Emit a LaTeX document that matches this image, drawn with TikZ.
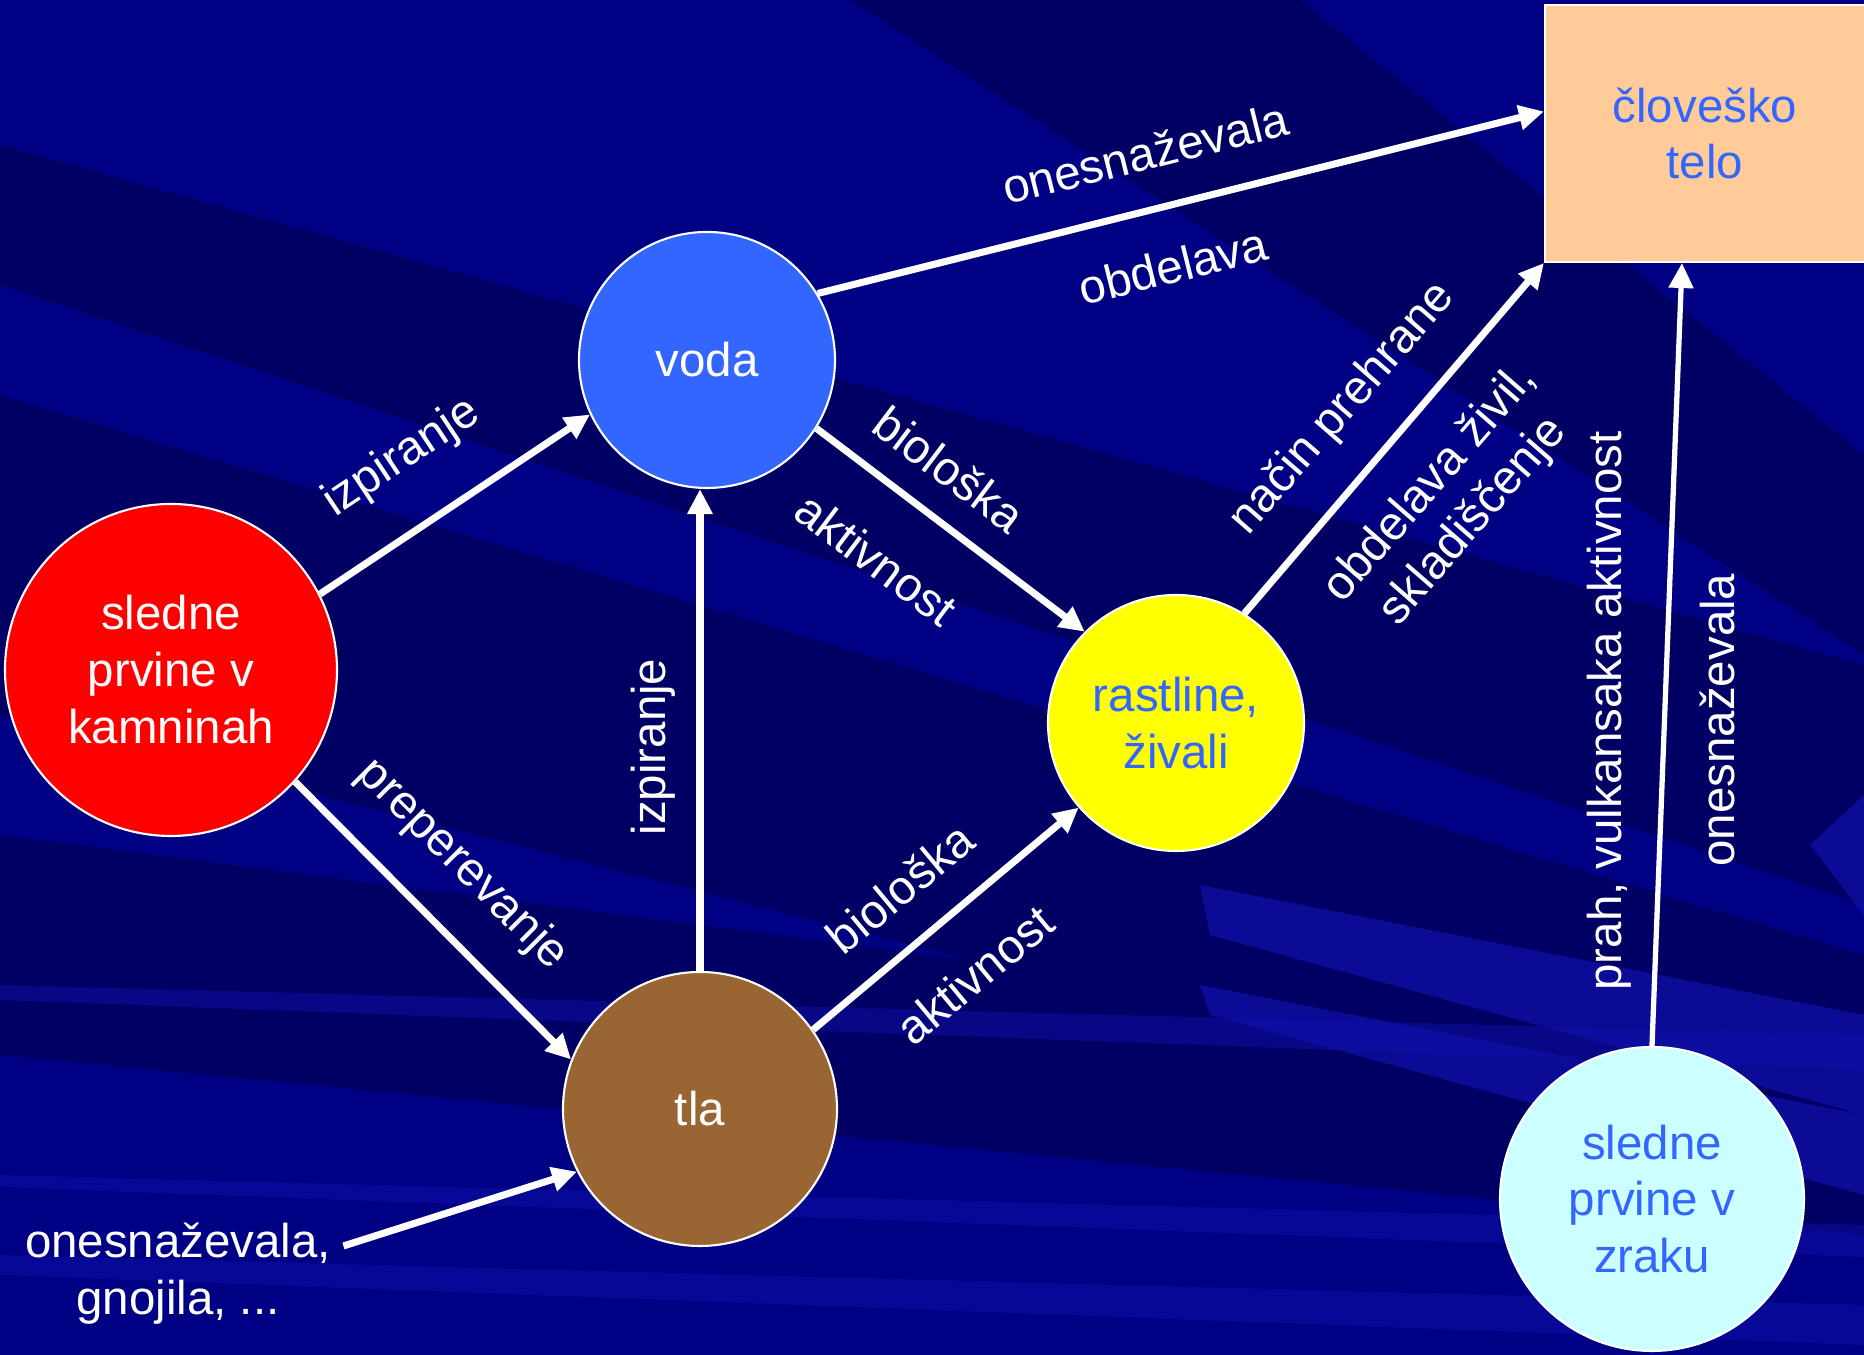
\documentclass[tikz,border=0pt]{standalone}
\usepackage{fontspec}
\setmainfont{Liberation Sans}
\usetikzlibrary{arrows.meta}

\definecolor{navy}{RGB}{0,0,132}
\definecolor{navydark}{RGB}{0,0,100}
\definecolor{navylight}{RGB}{16,16,170}
\definecolor{rockred}{RGB}{255,0,0}
\definecolor{waterblue}{RGB}{51,102,255}
\definecolor{soilbrown}{RGB}{153,102,51}
\definecolor{lifeyellow}{RGB}{255,255,0}
\definecolor{aircyan}{RGB}{204,255,255}
\definecolor{bodypeach}{RGB}{255,204,153}

\tikzset{
  element/.style={circle, draw=white, line width=0.6pt, align=center, inner sep=0pt},
  flow/.style={draw=white, line width=2pt, -{Triangle[length=0.25cm,width=0.24cm]}},
  thinflow/.style={flow, line width=1.5pt},
  flowlabel/.style={text=white, align=center, inner sep=1pt},
}

\begin{document}
\begin{tikzpicture}[font=\fontsize{13.5}{16.2}\selectfont]
\useasboundingbox (0,0) rectangle (18.64,13.55);
\clip (0,0) rectangle (18.64,13.55);
% background
\fill[navy] (0,0) rectangle (18.64,13.55);
\fill[navydark] (0,12.1) -- (0,10.7) -- (18.64,4.5) -- (18.64,6.9) -- cycle;
\fill[navydark] (0,9.6) -- (0,6.4) -- (18.64,1.7) -- (18.64,4.0) -- cycle;
\fill[navydark] (0,5.2) -- (0,3.0) -- (18.64,1.2) -- (18.64,2.8) -- cycle;
\fill[navydark] (8.5,13.55) -- (13.0,13.55) -- (18.64,9.0) -- (18.64,7.0) -- cycle;
\foreach \y/\w in {3.7/0.15, 1.8/0.12, 1.0/0.2}
  \fill[navylight, opacity=0.5] (0,\y) -- (0,\y-\w) -- (18.64,\y-0.7-\w) -- (18.64,\y-0.5) -- cycle;
\foreach \a/\b in {4.7/4.2, 3.7/3.4}
  \fill[navylight, opacity=0.7] (12.0,\a) -- (12.1,\b) -- (18.64,\b-1.8) -- (18.64,\a-1.3) -- cycle;
\fill[navylight, opacity=0.7] (18.64,5.6) -- (18.1,5.1) -- (18.64,4.4) -- cycle;

% nodes
\node[element, fill=rockred, text=white, minimum size=3.32cm] (rock) at (1.71,6.85) {sledne\\prvine v\\kamninah};
\node[element, fill=waterblue, text=white, minimum size=2.56cm] (voda) at (7.07,9.95) {voda};
\node[element, fill=soilbrown, text=white, minimum size=2.74cm] (tla) at (7.00,2.46) {tla};
\node[element, fill=lifeyellow, text=waterblue, minimum size=2.56cm] (ziva) at (11.76,6.32) {rastline,\\živali};
\node[element, fill=aircyan, text=waterblue, minimum size=3.04cm] (zrak) at (16.52,1.56) {sledne\\prvine v\\zraku};
\node[draw=white, line width=0.6pt, fill=bodypeach, text=waterblue, align=center,
      minimum width=3.2cm, minimum height=2.57cm] (telo) at (17.05,12.215) {človeško\\telo};
\node[text=white, align=center] (poll) at (1.78,0.81) {onesnaževala,\\gnojila, ...};

% connectors
\draw[flow] (rock.27) -- (voda.205);
\draw[flow] (rock.-42) -- (tla.159);
\draw[flow] (tla.north) -- (tla.north |- voda.south);
\draw[flow] (voda.-32) -- (ziva.135);
\draw[flow] (tla.35) -- (ziva.221);
\draw[flow] (voda.31) -- ([yshift=2.2mm]telo.west);
\draw[flow] (ziva.58) -- (telo.south west);
\draw[thinflow] (zrak.north) -- ([xshift=-2.3mm]telo.south);
\draw[flow] ([yshift=2.8mm]poll.east) -- (tla.207);

% labels
\node[flowlabel, rotate=33.6] (l1) at (4.02,8.97) {izpiranje};
\node[flowlabel, rotate=-45] (l2) at (4.62,4.90) {preperevanje};
\node[flowlabel, rotate=90] (l3) at (6.53,6.08) {izpiranje};
\node[flowlabel, rotate=-37] (l4) at (9.49,8.86) {biološka};
\node[flowlabel, rotate=-37] (l5) at (8.76,7.96) {aktivnost};
\node[flowlabel, rotate=39.7] (l6) at (9.00,4.67) {biološka};
\node[flowlabel, rotate=39.7] (l7) at (9.75,3.80) {aktivnost};
\node[flowlabel, rotate=14] (l8) at (11.45,12.02) {onesnaževala};
\node[flowlabel, rotate=14] (l9) at (11.73,10.89) {obdelava};
\node[flowlabel, rotate=49] (l10) at (13.43,9.46) {način prehrane};
\node[flowlabel, rotate=49] (l11) at (14.52,8.52) {obdelava živil,\\skladiščenje};
\node[flowlabel, rotate=90] (l12) at (16.09,6.44) {prah, vulkansaka aktivnost};
\node[flowlabel, rotate=90] (l13) at (17.17,6.35) {onesnaževala};
\end{tikzpicture}
\end{document}
